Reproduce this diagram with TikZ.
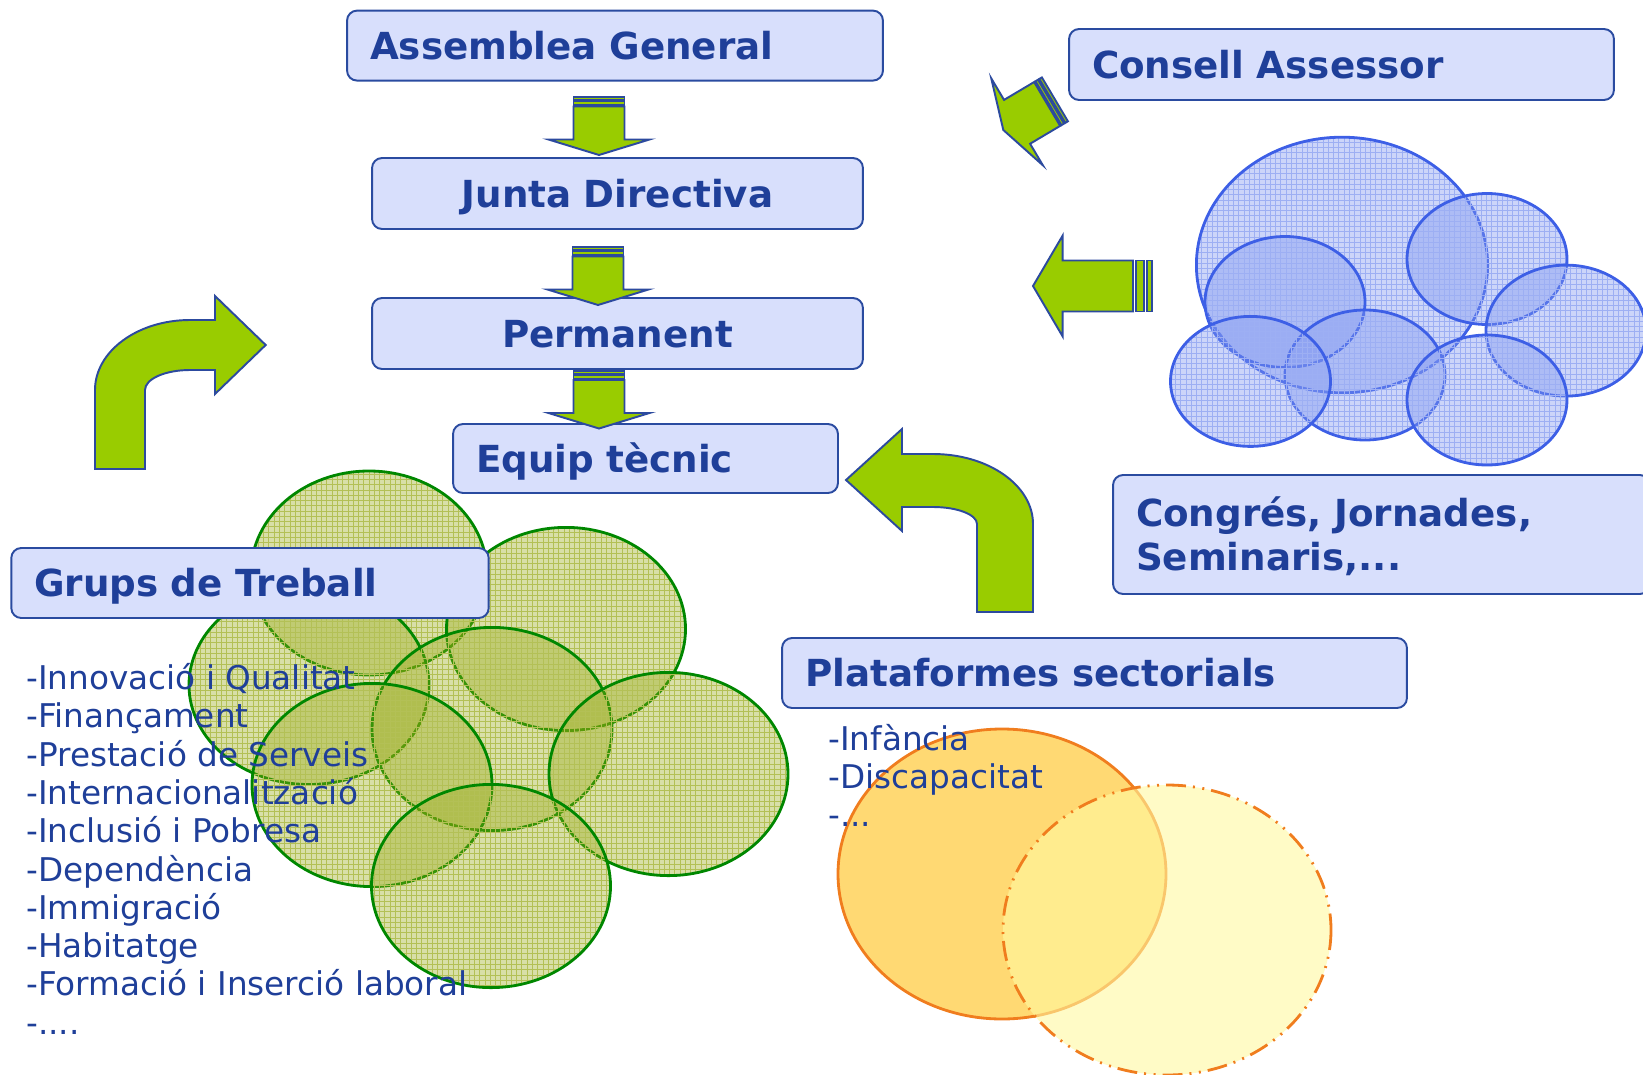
\documentclass[tikz,border=0pt]{standalone}
\usepackage{fontspec}
\setmainfont{DejaVu Sans}
\usetikzlibrary{calc}
\usetikzlibrary{patterns}
\definecolor{titleblue}{RGB}{31,63,153}
\definecolor{boxfill}{RGB}{216,223,252}
\definecolor{boxline}{RGB}{42,75,160}
\definecolor{arrowgreen}{RGB}{153,204,0}
\definecolor{arrowline}{RGB}{44,74,158}
\definecolor{leafgreen}{RGB}{150,168,20}
\definecolor{leafline}{RGB}{0,135,0}
\definecolor{cloudblue}{RGB}{127,150,240}
\definecolor{cloudline}{RGB}{61,95,230}
\definecolor{sunfill}{RGB}{255,208,80}
\definecolor{sunline}{RGB}{240,125,30}
\definecolor{palefill}{RGB}{255,248,160}

\tikzset{
  box/.style={draw=boxline, line width=1.1pt, fill=boxfill, rounded corners=0.2cm,
    text=titleblue, font=\bfseries\fontsize{21.2}{25}\selectfont, inner xsep=0.46cm},
  oneline/.style={text height=15.5pt, text depth=0pt},
  item/.style={text=titleblue, font=\fontsize{18.6}{21.7}\selectfont, inner sep=0pt, anchor=base west},
  arrowshape/.style={draw=arrowline, line width=1.1pt, fill=arrowgreen, line join=miter},
  leaf/.style={draw=leafline, line width=1.6pt, fill=leafgreen, fill opacity=0.37,
    preaction={draw=none, pattern=grid, pattern color=leafgreen!55}},
  cloud/.style={draw=cloudline, line width=1.6pt, fill=cloudblue, fill opacity=0.4,
    preaction={draw=none, pattern=grid, pattern color=cloudblue!60}}
}

% punts suspensius (el \foreach no accepta ... dins la llista)
\newcommand{\punts}{...}

% fletxa amb ratlles: punta, angle, cap, tija, ratlla 1, ratlla 2, separacio
\newcommand{\stripearrow}[7]{%
  \begin{scope}[shift={#1}, rotate=#2]
    \draw[arrowshape] (0,0) -- (-#3,50.5) -- (-#3,25.5) -- (-#3-#4,25.5)
      -- (-#3-#4,-25.5) -- (-#3,-25.5) -- (-#3,-50.5) -- cycle;
    \draw[arrowshape] (-#3-#4-#7,25.5) rectangle (-#3-#4-#7-#5,-25.5);
    \draw[arrowshape] (-#3-#4-2*#7-#5,25.5) rectangle (-#3-#4-2*#7-#5-#6,-25.5);
  \end{scope}}

\begin{document}
\begin{tikzpicture}[x=0.02cm, y=-0.02cm]

    \useasboundingbox (0,0) rectangle (1643,1075);

    % grups de treball
    \foreach \cx/\cy/\rx/\ry in {369/573/118/102, 566/629/119.5/101.6, 309/685/120/99.5,
        492/729/120/101.6, 372/785/120/101.6, 668.5/774/119.5/101.6, 491/886/119.5/101.6}{
        \draw[leaf] (\cx,\cy) ellipse [x radius=\rx, y radius=\ry];
    }

    % congressos, jornades
    \foreach \cx/\cy/\rx/\ry in {1342/265/145.6/127.8, 1487/259/80/65.5, 1285/302/80/65.5,
        1566/330.6/80/65.5, 1365/375/80/65, 1250.5/381.4/80/65, 1487/400/80/65}{
        \draw[cloud] (\cx,\cy) ellipse [x radius=\rx, y radius=\ry];
    }

    % plataformes
    \draw[draw=sunline, line width=1.6pt, fill=sunfill, fill opacity=0.8]
        (1002,874) ellipse [x radius=164, y radius=145];
    \draw[draw=sunline, line width=1.6pt, fill=palefill, fill opacity=0.6,
        dash pattern=on 0.40cm off 0.14cm on 0.04cm off 0.15cm on 0.04cm off 0.14cm]
        (1167,930) ellipse [x radius=164, y radius=145];

    % caixes
    \node[box, oneline, text width=9.80cm, minimum height=1.40cm, align=left] (asm) at (615,45.6) {Assemblea General};
    \node[box, oneline, text width=8.90cm, minimum height=1.42cm, align=center] (junta) at (617.5,193.5) {Junta Directiva};
    \node[box, oneline, text width=8.90cm, minimum height=1.42cm, align=center] (perm) at (617.5,333.5) {Permanent};
    \node[box, oneline, text width=6.78cm, minimum height=1.38cm, align=left] (equip) at (645.5,458.5) {Equip tècnic};
    \node[box, oneline, text width=9.98cm, minimum height=1.42cm, align=left] (consell) at (1341.5,64.5) {Consell Assessor};
    \node[box, text height=15.5pt, text depth=25pt, text width=9.82cm, minimum height=2.38cm, align=left] (congres) at (1381.5,534.5) {Congrés, Jornades,\\Seminaris,...};
    \node[box, oneline, text width=8.63cm, minimum height=1.40cm, align=left] (grups) at (250,583) {Grups de Treball};
    \node[box, oneline, text width=11.58cm, minimum height=1.40cm, align=left] (plat) at (1094.5,673) {Plataformes sectorials};

    % fletxes cap avall
    \stripearrow{(599,155)}{270}{15.5}{33}{4}{3}{1.2}
    \stripearrow{(598,305)}{270}{15.5}{33}{4}{3}{1.2}
    \stripearrow{(599,428.5)}{270}{15.5}{33}{4}{3}{1.2}

    % fletxes de la dreta
    \stripearrow{(1003.3,130)}{210.7}{16}{35}{3}{3}{1.5}
    \stripearrow{(1033,286)}{180}{29.7}{70.3}{8}{4.7}{3}

    % fletxes corbes
    \draw[arrowshape] (95,469) -- (95,390) arc[start angle=180, end angle=270, x radius=95, y radius=70]
        -- (215,320) -- (215,296) -- (265.7,345) -- (215,394) -- (215,370) -- (190,370)
        arc[start angle=270, end angle=180, x radius=45, y radius=20] -- (145,469) -- cycle;
    \draw[arrowshape] (1033,612) -- (1033,524) arc[start angle=0, end angle=-90, x radius=100, y radius=70]
        -- (902,454) -- (902,429) -- (846,480) -- (902,531) -- (902,507) -- (933,507)
        arc[start angle=-90, end angle=0, x radius=44, y radius=17] -- (977,612) -- cycle;

    % llistes
    \foreach \t [count=\k from 0] in {-Innovació i Qualitat, -Finançament, -Prestació de Serveis,
        -Internacionalització, -Inclusió i Pobresa, -Dependència, -Immigració, -Habitatge,
        -Formació i Inserció laboral, -.\punts}{
        \node[item] (grup\k) at (26,689.5+38.3*\k) {\t};
    }
    \foreach \t [count=\k from 0] in {-Infància, -Discapacitat, -\punts}{
        \node[item] (sect\k) at (828,750+38.3*\k) {\t};
    }

\end{tikzpicture}
\end{document}
